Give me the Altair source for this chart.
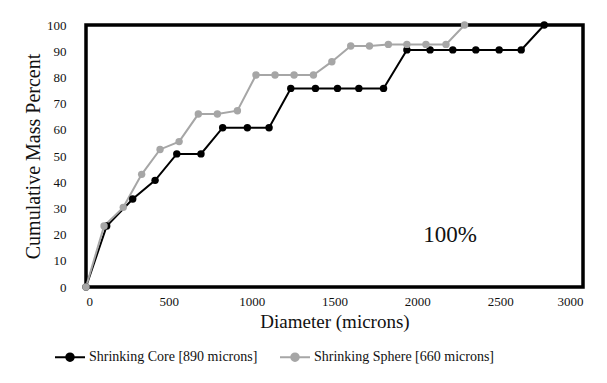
import altair as alt
import pandas as pd

core_x = [0, 125, 282, 417, 548, 694, 825, 974, 1105, 1236, 1385, 1518, 1647, 1796,
          1937, 2077, 2214, 2353, 2494, 2627, 2766]
core_y = [0, 23.3, 33.6, 40.7, 50.8, 50.8, 60.8, 60.8, 60.8, 75.8, 75.8, 75.8, 75.8, 75.8,
          90.5, 90.5, 90.5, 90.5, 90.5, 90.5, 100]
sphere_x = [0, 109, 225, 336, 447, 562, 678, 793, 914, 1026, 1141, 1256, 1373, 1484,
            1598, 1711, 1825, 1937, 2052, 2173, 2285]
sphere_y = [0, 23.3, 30.4, 43, 52.5, 55.5, 66, 66, 67.3, 80.9, 80.9, 80.9, 80.9, 86,
            92, 92, 92.6, 92.6, 92.6, 92.6, 100]
series_names = ["Shrinking Core [890 microns]", "Shrinking Sphere [660 microns]"]
series_colors = ["#000000", "#a6a6a6"]
annot_text = ["100%"]
annot_x = [2198]
annot_y = [20]

rows = []
for i, (x, y) in enumerate(zip(core_x, core_y)):
    rows.append({"d": x, "p": y, "s": series_names[0], "o": i})
for i, (x, y) in enumerate(zip(sphere_x, sphere_y)):
    rows.append({"d": x, "p": y, "s": series_names[1], "o": i})
df = pd.DataFrame(rows)
adf = pd.DataFrame({"t": annot_text, "d": annot_x, "p": annot_y})

FONT = "Liberation Serif"

xenc = alt.X("d:Q", scale=alt.Scale(domain=[0, 3000], nice=False),
             axis=alt.Axis(values=list(range(0, 3001, 500)), title="Diameter (microns)",
                           format="d", labelOverlap=False,
                           grid=False, ticks=False, domain=False, labelPadding=8,
                           titlePadding=4, labelFontSize=13, titleFontSize=19,
                           titleFontWeight="normal", labelFont=FONT, titleFont=FONT,
                           labelColor="#111", titleColor="#111"))
yenc = alt.Y("p:Q", scale=alt.Scale(domain=[0, 100], nice=False),
             axis=alt.Axis(values=list(range(0, 101, 10)), title="Cumulative Mass Percent",
                           format="d", labelOverlap=False,
                           grid=False, ticks=False, domain=False, labelPadding=20,
                           titlePadding=3, labelFontSize=13, titleFontSize=20,
                           titleFontWeight="normal", labelFont=FONT, titleFont=FONT,
                           labelColor="#111", titleColor="#111"))

sym = "M-1,0L1,0M0.25,0A0.25,0.25,0,1,1,-0.25,0A0.25,0.25,0,1,1,0.25,0Z"
legend = alt.Legend(title=None, orient="none", direction="horizontal",
                    legendX=-32, legendY=316, symbolType=sym, symbolSize=900,
                    symbolStrokeWidth=2, labelFont=FONT, labelFontSize=14,
                    labelColor="#111", columnPadding=18, labelOffset=3, labelLimit=0)

cscale = alt.Scale(domain=series_names, range=series_colors)

lines = alt.Chart(df).mark_line(strokeWidth=2).encode(
    x=xenc, y=yenc,
    color=alt.Color("s:N", scale=cscale, legend=legend),
    order="o:Q",
)
points = alt.Chart(df).mark_point(filled=True, size=55, opacity=1).encode(
    x=xenc, y=yenc,
    color=alt.Color("s:N", scale=cscale, legend=legend),
    fill=alt.Fill("s:N", scale=cscale, legend=legend),
)
annot = alt.Chart(adf).mark_text(
    font=FONT, fontSize=23, color="#111"
).encode(x=xenc, y=yenc, text="t:N")

chart = alt.layer(lines, points, annot).properties(
    width=497, height=262,
    autosize=alt.AutoSizeParams(type="none"),
    padding={"left": 78, "top": 17, "right": 10, "bottom": 80},
).configure(background="white").configure_view(stroke="black", strokeWidth=3.5)

chart.save("out.html", embed_options={"renderer": "svg", "actions": False})
